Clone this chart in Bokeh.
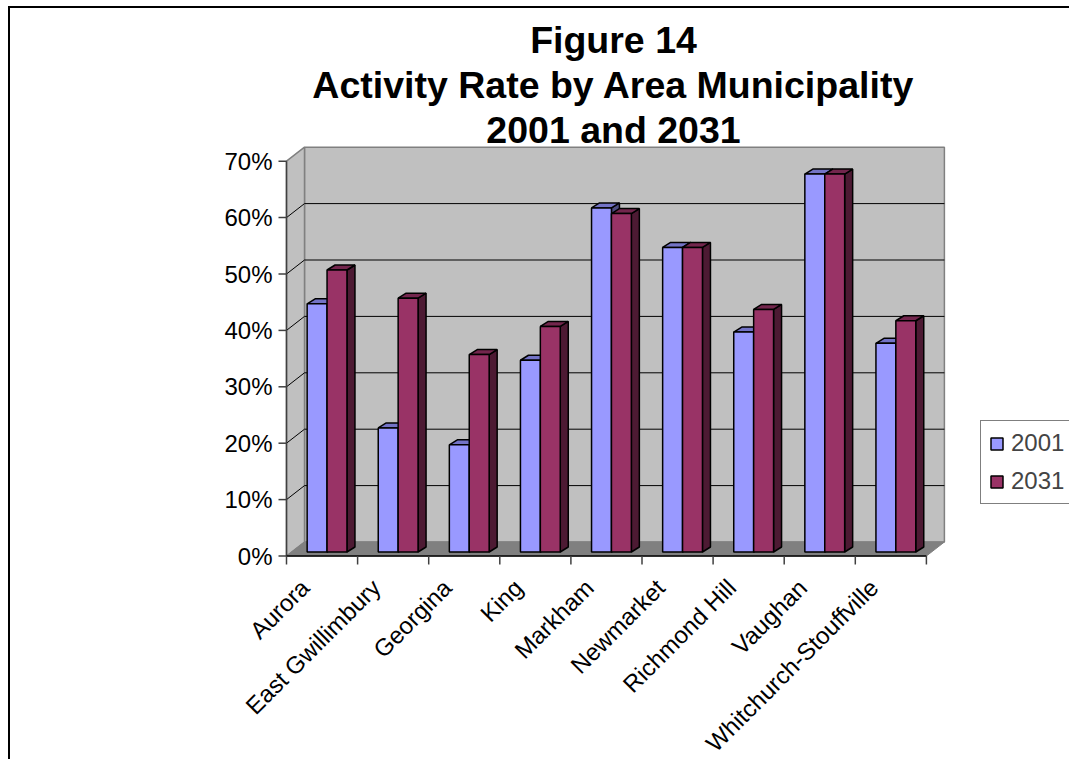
import math
from bokeh.plotting import figure
from bokeh.models import (Range1d, FixedTicker, NumeralTickFormatter, Legend,
                          LegendItem, ColumnDataSource)
from bokeh.core.properties import value
from bokeh.embed import file_html
from bokeh.resources import INLINE

# ---------------- data ----------------
categories = ["Aurora", "East Gwillimbury", "Georgina", "King", "Markham",
              "Newmarket", "Richmond Hill", "Vaughan", "Whitchurch-Stouffville"]
rate_2001 = [0.44, 0.22, 0.19, 0.34, 0.61, 0.54, 0.39, 0.67, 0.37]
rate_2031 = [0.50, 0.45, 0.35, 0.40, 0.60, 0.54, 0.43, 0.67, 0.41]
series_names = ["2001", "2031"]
y_ticks = [0.0, 0.1, 0.2, 0.3, 0.4, 0.5, 0.6, 0.7]
title_lines = ["Figure 14", "Activity Rate by Area Municipality", "2001 and 2031"]

# ---------------- geometry (pixel scale of the data units) ----------------
PX_X = 71.1     # pixels per category
PX_Y = 564.0    # pixels per 100 %
n = len(categories)
y_max = y_ticks[-1]

S = 17 / PX_X                              # category centre sits right of its label anchor
DX, DY = 18 / PX_X, 14 / PX_Y              # depth of the 3-D box
BOX, BOY = 5 / PX_X, 4 / PX_Y              # bars set back from the front plane
BDX, BDY = 8 / PX_X, 5 / PX_Y              # depth of a bar
BAR_W = 0.28

L, R = -0.5 + S, n - 0.5 + S               # front-plane category extent

x_start = L - 286 / PX_X
x_end = x_start + 1069 / PX_X
y_end = 555.5 / PX_Y
y_start = y_end - 759 / PX_Y

FONT = "Liberation Sans"

p = figure(width=1069, height=759, x_range=Range1d(x_start, x_end),
           y_range=Range1d(y_start, y_end), output_backend="svg",
           toolbar_location=None, title=None,
           min_border_left=0, min_border_right=0, min_border_top=0,
           min_border_bottom=0)
p.outline_line_color = None
p.background_fill_color = None
p.border_fill_color = None
p.xgrid.visible = False
p.ygrid.visible = False
# chart-area border (left and top edges of the surrounding chart box)
p.styles = {
    "background-color": "white",
    "background-image": "linear-gradient(#000, #000), linear-gradient(#000, #000)",
    "background-size": "2px 100%, 100% 2px",
    "background-position": "8px 6px, 8px 6px",
    "background-repeat": "no-repeat",
}

# ---------------- title ----------------
tx = L + (613 - 286) / PX_X
title_y = [(555.5 - b) / PX_Y for b in (39, 84, 129)]
p.text(x=[tx] * 3, y=title_y, text=title_lines, text_font=value(FONT),
       text_font_style="bold", text_font_size="37.5px", text_align="center",
       text_baseline="middle", text_color="black")

# ---------------- walls and floor ----------------
back_x = [L + DX, R + DX, R + DX, L + DX]
back_y = [DY, DY, y_max + DY, y_max + DY]
side_x = [L, L + DX, L + DX, L]
side_y = [0, DY, y_max + DY, y_max]
floor_x = [L, R, R + DX, L + DX]
floor_y = [0, 0, DY, DY]
p.patches(xs=[back_x, side_x], ys=[back_y, side_y], fill_color="#C0C0C0",
          line_color="#808080", line_width=1.5)
p.patch(floor_x, floor_y, fill_color="#808080", line_color="#808080", line_width=1)

grid_vals = y_ticks[1:-1]
gx = [[L, L + DX, R + DX] for _ in grid_vals]
gy = [[t, t + DY, t + DY] for t in grid_vals]
p.multi_line(xs=gx, ys=gy, line_color="black", line_width=1)

# front axes
p.line([L, L], [0, y_max], line_color="#404040", line_width=1.5)
p.line([L, R], [0, 0], line_color="black", line_width=1.5)
p.segment(x0=[L - 8 / PX_X] * len(y_ticks), y0=y_ticks, x1=[L] * len(y_ticks),
          y1=y_ticks, line_color="#404040", line_width=1.5)
bx = [L + j for j in range(n + 1)]
p.segment(x0=bx, y0=[0] * len(bx), x1=bx, y1=[-8.5 / PX_Y] * len(bx),
          line_color="#404040", line_width=1.5)

# ---------------- bars ----------------
styles = [("#9999FF", "#7373C6", "#4C4C80"), ("#993366", "#73264D", "#4D1A33")]
front_renderers = []
for k, vals in enumerate([rate_2001, rate_2031]):
    lefts = [i + S - BAR_W + k * BAR_W + BOX for i in range(n)]
    rights = [l + BAR_W for l in lefts]
    tops = [BOY + v for v in vals]
    bottoms = [BOY] * n
    sides_x = [[r, r + BDX, r + BDX, r] for r in rights]
    sides_y = [[BOY, BOY + BDY, t + BDY, t] for t in tops]
    tops_x = [[l, l + BDX, r + BDX, r] for l, r in zip(lefts, rights)]
    tops_y = [[t, t + BDY, t + BDY, t] for t in tops]
    front, top_c, side_c = styles[k]
    p.patches(xs=sides_x, ys=sides_y, fill_color=side_c, line_color="black",
              line_width=1.5)
    p.patches(xs=tops_x, ys=tops_y, fill_color=top_c, line_color="black",
              line_width=1.5)
    src = ColumnDataSource(dict(left=lefts, right=rights, top=tops, bottom=bottoms))
    r = p.quad(left="left", right="right", top="top", bottom="bottom", source=src,
               fill_color=front, line_color="black", line_width=1.5)
    front_renderers.append(r)

# ---------------- axes ----------------
p.yaxis.ticker = FixedTicker(ticks=y_ticks)
p.yaxis.formatter = NumeralTickFormatter(format="0%")
p.yaxis.fixed_location = L - 10 / PX_X
p.xaxis.ticker = FixedTicker(ticks=list(range(n)))
p.xaxis.major_label_overrides = {i: c for i, c in enumerate(categories)}
p.xaxis.major_label_orientation = math.pi / 4
p.xaxis.fixed_location = -10.5 / PX_Y
for ax in (p.xaxis, p.yaxis):
    ax.axis_line_color = None
    ax.major_tick_line_color = None
    ax.minor_tick_line_color = None
    ax.major_tick_in = 0
    ax.major_tick_out = 0
    ax.major_label_text_font = FONT
    ax.major_label_text_font_size = "24px"
    ax.major_label_text_color = "black"
p.yaxis.major_label_standoff = 4
p.xaxis.major_label_standoff = 17

# ---------------- legend ----------------
legend = Legend(items=[LegendItem(label=s, renderers=[r])
                       for s, r in zip(series_names, front_renderers)],
                location=(980, 759 - 504), orientation="vertical",
                label_text_font=FONT, label_text_font_size="24px",
                glyph_width=15, glyph_height=15, label_standoff=7,
                label_height=20, label_width=80, spacing=10, padding=8, margin=0,
                border_line_color="black", border_line_width=1,
                background_fill_color="white", background_fill_alpha=1)
p.add_layout(legend)

open("out.html", "w").write(file_html(p, INLINE))
